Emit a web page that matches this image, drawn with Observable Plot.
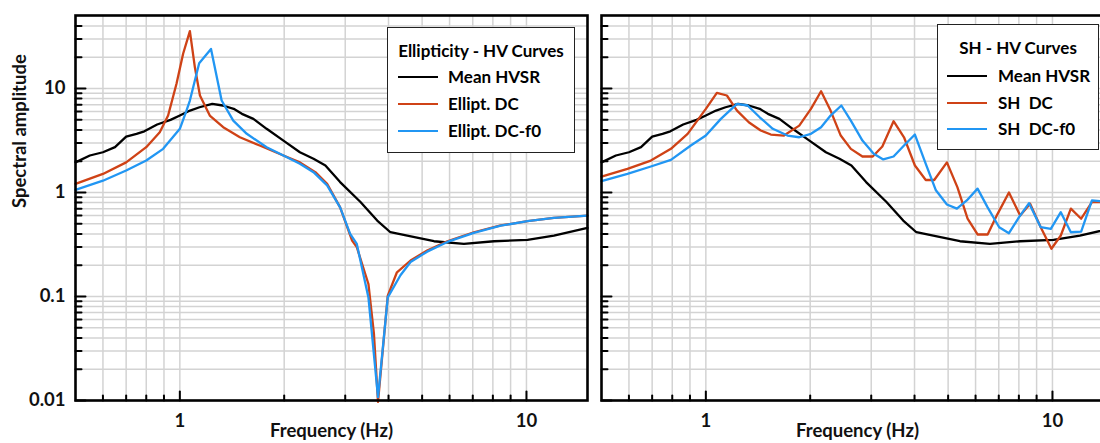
<!DOCTYPE html>
<html><head><meta charset="utf-8">
<script src="https://cdn.jsdelivr.net/npm/d3@7"></script>
<script src="https://cdn.jsdelivr.net/npm/@observablehq/plot@0.6"></script>
<style>
html,body{margin:0;padding:0;width:1100px;height:443px;overflow:hidden;background:#fff;}
#wrap{position:relative;width:1100px;height:443px;overflow:hidden;font-family:Lato,sans-serif;font-weight:700;}
.panel{position:absolute;top:0;}
.legend{position:absolute;background:#fff;border:1.5px solid #222;box-sizing:border-box;font-size:17px;color:#000;}
.legend .title{position:absolute;left:0;right:0;text-align:center;line-height:20px;height:20px;white-space:pre;}
.legend .item{position:absolute;line-height:20px;height:20px;white-space:pre;}
.legend .sw{position:absolute;height:2.4px;}
</style></head>
<body><div id="wrap"></div>
<script>
// ---- data ----
const meanF = [0.5,0.55,0.6,0.65,0.7,0.75,0.79,0.86,0.94,1.0,1.07,1.14,1.24,1.33,1.43,1.51,1.63,1.78,1.99,2.22,2.43,2.63,2.9,3.32,3.71,4.05,4.53,5.41,6.6,8.06,10.07,12.0,15];
const meanV = [1.95,2.27,2.44,2.73,3.45,3.67,3.88,4.51,5.0,5.5,6.14,6.61,7.13,6.87,6.38,5.71,5.11,4.10,3.16,2.44,2.11,1.82,1.26,0.81,0.538,0.415,0.386,0.34,0.321,0.34,0.35,0.386,0.457];

const ellDcF = [0.5,0.6,0.7,0.8,0.875,0.925,0.978,1.022,1.069,1.105,1.143,1.22,1.334,1.49,1.70,1.99,2.22,2.46,2.66,2.90,3.14,3.24,3.5,3.63,3.73,3.98,4.23,4.63,5.17,5.91,7.05,8.43,10.07,12.0,15];
const ellDcV = [1.21,1.51,1.95,2.73,3.8,5.5,11.1,21.6,35.6,16.0,8.57,5.5,4.25,3.4,2.83,2.27,1.95,1.57,1.21,0.72,0.345,0.298,0.132,0.044,0.0097,0.102,0.171,0.222,0.277,0.34,0.415,0.482,0.53,0.57,0.60];

const ellF0F = [0.5,0.6,0.7,0.8,0.895,1.0,1.045,1.069,1.137,1.23,1.32,1.426,1.56,1.78,1.99,2.22,2.43,2.66,2.9,3.1,3.24,3.5,3.73,3.98,4.33,4.63,5.17,5.91,7.05,8.43,10.07,12.0,15];
const ellF0V = [1.06,1.30,1.63,2.03,2.63,4.10,6.14,7.67,17.5,24.0,7.67,4.92,3.67,2.73,2.27,1.89,1.57,1.17,0.72,0.40,0.32,0.098,0.0108,0.098,0.16,0.215,0.27,0.335,0.41,0.48,0.53,0.57,0.60];

const shDcF = [0.5,0.594,0.694,0.793,0.886,1.0,1.076,1.15,1.23,1.33,1.44,1.54,1.68,1.86,2.01,2.15,2.29,2.45,2.62,2.83,3.03,3.23,3.48,3.73,4.01,4.31,4.56,4.96,5.32,5.69,6.08,6.5,6.94,7.49,8.07,8.62,9.25,9.93,10.57,11.3,12.1,13.0,13.7,15];
const shDcV = [1.42,1.69,2.03,2.63,3.67,6.38,9.09,8.57,6.14,4.74,3.95,3.61,3.53,4.40,6.38,9.42,6.14,3.53,2.63,2.22,2.22,2.77,4.85,3.4,1.82,1.32,1.32,1.95,1.12,0.56,0.395,0.395,0.62,1.0,0.60,0.78,0.464,0.288,0.386,0.70,0.56,0.81,0.81,0.8];

const shF0F = [0.5,0.594,0.694,0.793,0.905,1.0,1.105,1.23,1.32,1.43,1.56,1.72,1.86,2.01,2.15,2.29,2.46,2.62,2.83,3.05,3.25,3.48,3.73,4.01,4.31,4.61,4.96,5.3,5.66,6.08,6.5,7.02,7.49,8.01,8.56,9.25,9.89,10.57,11.3,12.1,13.0,13.7,15];
const shF0V = [1.29,1.51,1.78,2.06,2.83,3.53,5.11,7.13,6.87,5.29,4.10,3.53,3.4,3.67,4.25,5.5,6.87,4.92,3.16,2.36,2.08,2.22,2.83,3.61,1.89,1.05,0.767,0.70,0.84,1.09,0.72,0.464,0.406,0.58,0.79,0.464,0.447,0.647,0.415,0.42,0.84,0.825,0.82];

const xMajorTicks = [1, 10];
const xMinorTicks = [0.6,0.7,0.8,0.9,2,3,4,5,6,7,8,9];
const yMajorTicks = [0.01, 0.1, 1, 10];
const yMinorTicks = [0.02,0.03,0.04,0.05,0.06,0.07,0.08,0.09,0.2,0.3,0.4,0.5,0.6,0.7,0.8,0.9,2,3,4,5,6,7,8,9,20,30,40];
const yTickLabels = ["0.01", "0.1", "1", "10"];

const colors = {mean: "#000000", dc: "#cf4216", f0: "#2196f3"};
const leftLegend = {title: "Ellipticity - HV Curves", items: ["Mean HVSR", "Ellipt. DC", "Ellipt. DC-f0"]};
const rightLegend = {title: "SH - HV Curves", items: ["Mean HVSR", "SH  DC", "SH  DC-f0"]};

// ---- helpers ----
const toRows = (F, V) => F.map((f, i) => ({f, v: V[i]}));
const tickShape = {draw(ctx, l) { ctx.moveTo(0, 0); ctx.lineTo(0, -l); }};

function panel(series, showYLabels) {
  const marks = [
    Plot.gridX(xMinorTicks.concat(xMajorTicks), {stroke: "#d3d3d3", strokeOpacity: 1, strokeWidth: 1.5}),
    Plot.gridY(yMinorTicks.concat(yMajorTicks), {stroke: "#d3d3d3", strokeOpacity: 1, strokeWidth: 1.5}),
    ...series.map(s => Plot.line(toRows(s.F, s.V), {x: "f", y: "v", stroke: s.color, strokeWidth: 2.3, curve: "linear"})),
    Plot.vectorX(xMajorTicks, {x: d => d, frameAnchor: "bottom", length: 9, rotate: 0, anchor: "start", shape: tickShape, stroke: "#000", strokeWidth: 2}),
    Plot.vectorX(xMinorTicks, {x: d => d, frameAnchor: "bottom", length: 5, rotate: 0, anchor: "start", shape: tickShape, stroke: "#000", strokeWidth: 2}),
    Plot.vectorY(yMajorTicks, {y: d => d, frameAnchor: "left", length: 10, rotate: 90, anchor: "start", shape: tickShape, stroke: "#000", strokeWidth: 2}),
    Plot.vectorY(yMinorTicks, {y: d => d, frameAnchor: "left", length: 6, rotate: 90, anchor: "start", shape: tickShape, stroke: "#000", strokeWidth: 2}),
    Plot.frame({stroke: "#000", strokeWidth: 2.6}),
    Plot.text(xMajorTicks, {x: d => d, frameAnchor: "bottom", dy: 21, text: d => String(d), fontSize: 18.5, fontWeight: 700, lineAnchor: "middle", fill: "#111"}),
    Plot.text(["Frequency (Hz)"], {frameAnchor: "bottom", dy: 31, text: d => d, fontSize: 18.5, fontWeight: 700, lineAnchor: "middle", fill: "#111"})
  ];
  if (showYLabels) {
    marks.push(Plot.text(yMajorTicks, {y: d => d, frameAnchor: "left", dx: -10, textAnchor: "end", text: (d, i) => yTickLabels[i], fontSize: 18.5, fontWeight: 700, lineAnchor: "middle", fill: "#111"}));
    marks.push(Plot.text(["Spectral amplitude"], {frameAnchor: "left", dx: -55, rotate: -90, text: d => d, fontSize: 18.5, fontWeight: 700, lineAnchor: "middle", fill: "#111"}));
  }
  return Plot.plot({
    width: 597, height: 443,
    marginLeft: 75, marginRight: 10, marginTop: 15, marginBottom: 43,
    x: {type: "log", domain: [0.5, 15], axis: null},
    y: {type: "log", domain: [0.01, 50.4], axis: null},
    style: {fontFamily: "Lato, sans-serif", background: "transparent", overflow: "visible"},
    marks
  });
}

function legend(cfg, box) {
  const div = document.createElement("div");
  div.className = "legend";
  Object.assign(div.style, {left: box.x + "px", top: box.y + "px", width: box.w + "px", height: box.h + "px"});
  const t = document.createElement("div");
  t.className = "title"; t.textContent = cfg.title; t.style.top = (box.titleY - 10) + "px";
  div.appendChild(t);
  const cols = [colors.mean, colors.dc, colors.f0];
  cfg.items.forEach((label, i) => {
    const sw = document.createElement("div");
    sw.className = "sw";
    Object.assign(sw.style, {left: box.swX + "px", width: "40px", top: (box.itemY[i] - 1.2) + "px", background: cols[i]});
    div.appendChild(sw);
    const it = document.createElement("div");
    it.className = "item"; it.textContent = label;
    Object.assign(it.style, {left: box.textX + "px", top: (box.itemY[i] - 10) + "px"});
    div.appendChild(it);
  });
  return div;
}

const wrap = document.getElementById("wrap");
const left = panel([
  {F: meanF, V: meanV, color: colors.mean},
  {F: ellDcF, V: ellDcV, color: colors.dc},
  {F: ellF0F, V: ellF0V, color: colors.f0}
], true);
left.classList.add("panel"); left.style.left = "0px";
wrap.appendChild(left);

const right = panel([
  {F: meanF, V: meanV, color: colors.mean},
  {F: shDcF, V: shDcV, color: colors.dc},
  {F: shF0F, V: shF0V, color: colors.f0}
], false);
right.classList.add("panel"); right.style.left = "526px";
wrap.appendChild(right);

wrap.appendChild(legend(leftLegend, {x: 387, y: 27, w: 188, h: 126, titleY: 23, swX: 10, textX: 60, itemY: [49, 76, 103]}));
wrap.appendChild(legend(rightLegend, {x: 937, y: 24, w: 162, h: 126, titleY: 23, swX: 9, textX: 60, itemY: [51, 78, 104]}));
</script>
</body></html>
